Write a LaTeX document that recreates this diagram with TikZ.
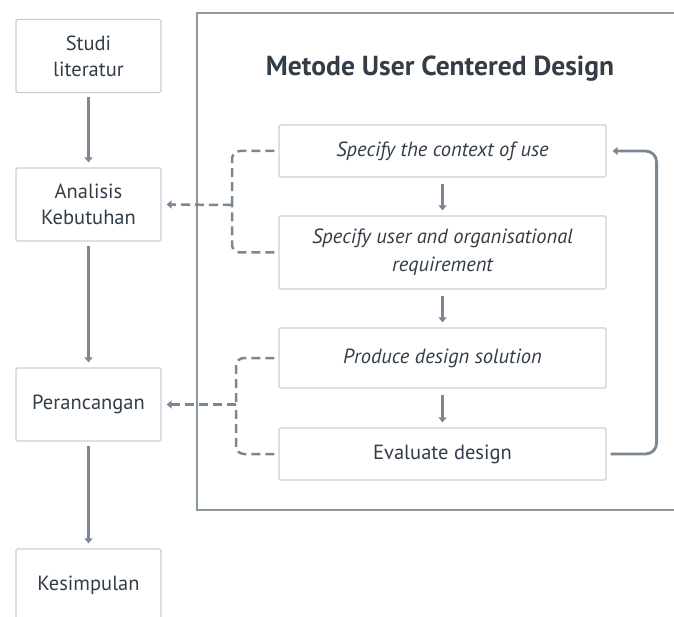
\documentclass[tikz,border=0pt]{standalone}
\usepackage{fontspec}
\setmainfont{PT Sans}
\usepackage{xcolor}
\usetikzlibrary{positioning, arrows.meta, calc}

\definecolor{boxline}{HTML}{C9CFD5}
\definecolor{frameline}{HTML}{8E989F}
\definecolor{flowline}{HTML}{7B8893}
\definecolor{txt}{HTML}{333D47}

\begin{document}
\begin{tikzpicture}[
    x=1pt, y=-1pt,
    every node/.style={text=txt},
    stage/.style={draw=boxline, line width=1.2pt, rounded corners=1.5pt, minimum width=145pt,
        minimum height=73pt, align=center, font=\fontsize{20.5}{26}\selectfont},
    ucd/.style={draw=boxline, line width=1.2pt, rounded corners=1.5pt, minimum width=327pt,
        align=center, font=\fontsize{20.5}{28}\selectfont\itshape},
    flow/.style={draw=flowline, line width=2.8pt, -{Triangle[width=8pt,length=5pt]}},
    dashflow/.style={draw=flowline, line width=2.5pt, dash pattern=on 9pt off 5pt, rounded corners=8pt}
]
    \useasboundingbox (0,0) rectangle (674,617);

    % Frame
    \draw[frameline, line width=1.6pt] (690,13) -- (197,13) -- (197,510) -- (690,510);
    \node[font=\fontsize{27.5}{30}\selectfont\bfseries] (title) at (440,69) {Metode User Centered Design};

    % Stages
    \node[stage] (studi) at (88.5,56) {Studi\\literatur};
    \node[stage] (analisis) at (88.5,204.5) {Analisis\\Kebutuhan};
    \node[stage] (perancangan) at (88.5,404.5) {Perancangan};
    \node[stage] (kesimpulan) at (88.5,585.5) {Kesimpulan};

    % UCD steps
    \node[ucd, minimum height=52pt] (context) at (442.5,151) {Specify the context of use};
    \node[ucd, minimum height=73pt] (requirement) at (442.5,252.5) {Specify user and organisational\\requirement};
    \node[ucd, minimum height=60pt] (solution) at (442.5,358) {Produce design solution};
    \node[ucd, minimum height=52pt, font=\fontsize{20.5}{28}\selectfont] (evaluate) at (442.5,454) {Evaluate design};

    \coordinate (join1) at (232,205);
    \coordinate (join2) at (236,404.5);

    % Main flow
    \draw[flow, shorten <=4pt, shorten >=5pt] (studi) -- (analisis);
    \draw[flow, shorten <=4pt, shorten >=5pt] (analisis) -- (perancangan);
    \draw[flow, shorten <=4pt, shorten >=5pt] (perancangan) -- (kesimpulan);

    % UCD flow
    \draw[flow, shorten <=6pt, shorten >=5pt] (context) -- (requirement);
    \draw[flow, shorten <=6pt, shorten >=5pt] (requirement) -- (solution);
    \draw[flow, shorten <=6pt, shorten >=5pt] (solution) -- (evaluate);
    \draw[flow, rounded corners=11pt] ([xshift=4pt]evaluate.east) -- ++(46,0) |- ([xshift=6pt]context.east);

    % Dashed links
    \draw[dashflow] ([xshift=-4pt]context.west) -| (join1);
    \draw[dashflow] ([xshift=-4pt]requirement.west) -| (join1);
    \draw[dashflow, -{Triangle[width=8pt,length=5pt]}] (join1) -- ([xshift=5pt]analisis.east);
    \draw[dashflow] ([xshift=-4pt]solution.west) -| (join2);
    \draw[dashflow] ([xshift=-4pt]evaluate.west) -| (join2);
    \draw[dashflow, -{Triangle[width=8pt,length=5pt]}] (join2) -- ([xshift=5pt]perancangan.east);
\end{tikzpicture}
\end{document}
